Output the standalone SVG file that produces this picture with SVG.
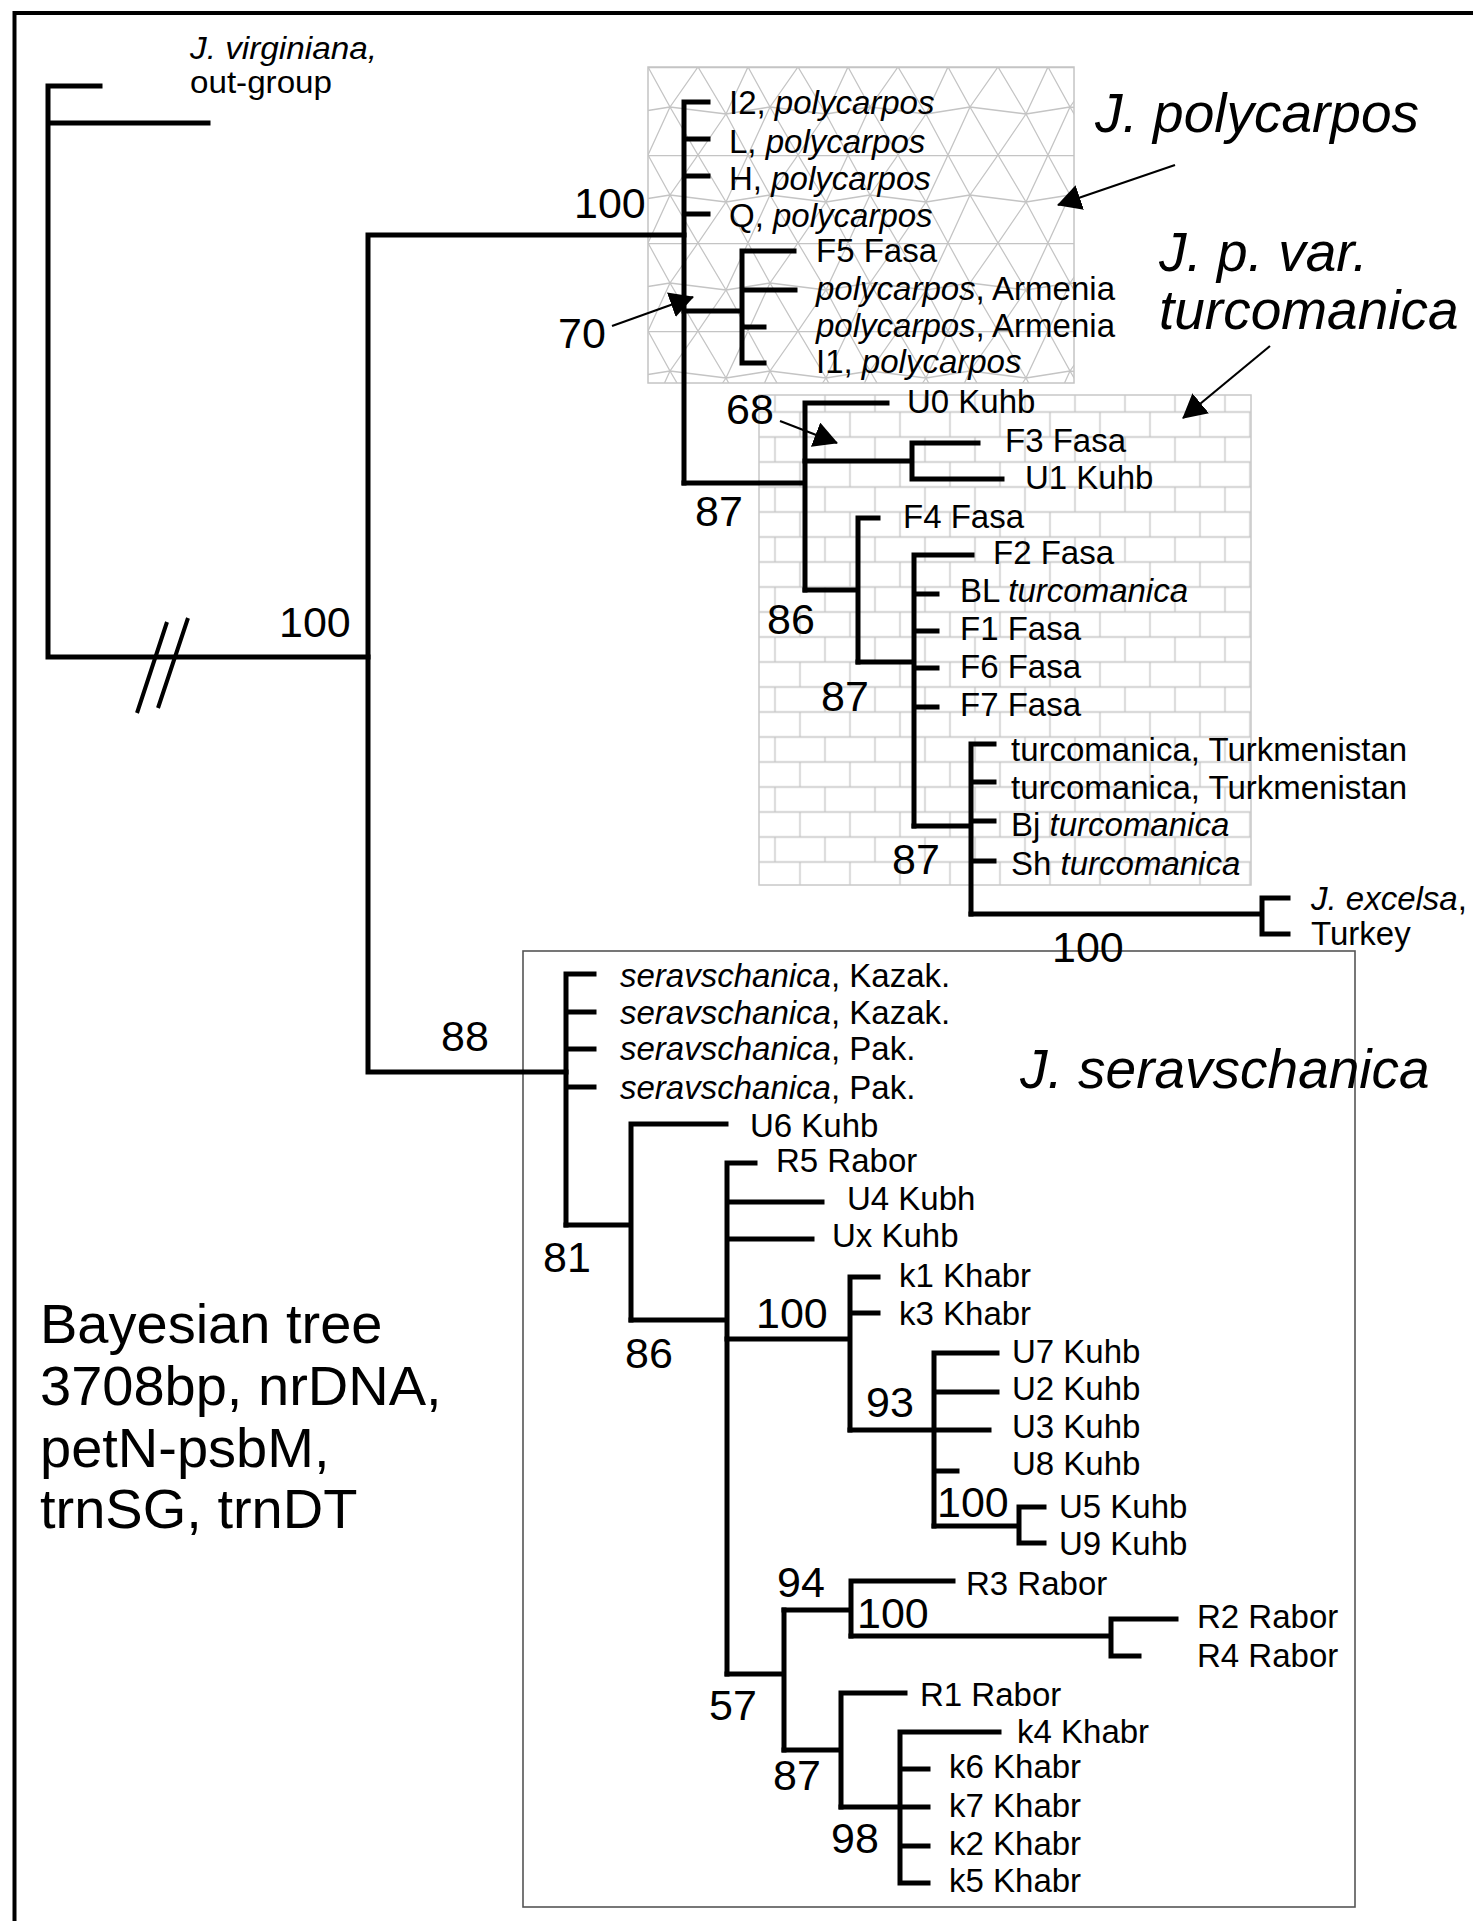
<svg xmlns="http://www.w3.org/2000/svg" width="1473" height="1921" viewBox="0 0 1473 1921">
<defs>
<style>
.br{fill:none;stroke:#000;stroke-width:5;stroke-linecap:square;stroke-linejoin:miter}
.t{font-family:"Liberation Sans",Arial,sans-serif;font-size:33px;fill:#000}
.i{font-style:italic}
.s{font-family:"Liberation Sans",Arial,sans-serif;font-size:43px;fill:#000}
.big{font-family:"Liberation Sans",Arial,sans-serif;font-size:55px;font-style:italic;fill:#000}
.bay{font-family:"Liberation Sans",Arial,sans-serif;font-size:56px;fill:#000}
.ar{fill:none;stroke:#000;stroke-width:2.2;marker-end:url(#ah)}
.pl{fill:none;stroke:#c4c4c4;stroke-width:1.3}
</style>
<marker id="ah" markerUnits="userSpaceOnUse" markerWidth="24" markerHeight="26" viewBox="0 0 24 26" refX="23" refY="13" orient="auto">
<path d="M0,0 L24,13 L0,26 Z" fill="#000"/>
</marker>
<pattern id="mesh" patternUnits="userSpaceOnUse" x="648" y="67" width="100" height="88">
<path class="pl" d="M0,0 L22,40 M50,0 L22,40 M50,0 L78,47 M100,0 L78,47 M22,40 L78,47 M22,40 L0,88 M22,40 L50,88 M78,47 L50,88 M78,47 L100,88 M0,43.5 L22,40 M78,47 L100,43.5 M0,0.6 H100"/>
</pattern>
<pattern id="brick" patternUnits="userSpaceOnUse" x="762.5" y="399.5" width="50" height="50">
<path class="pl" d="M0,12.5 H50 M0,37.5 H50 M37.5,12.5 V37.5 M12.5,37.5 V50 M12.5,0 V12.5" stroke="#c6c6c6"/>
</pattern>
</defs>
<rect x="0" y="0" width="1473" height="1921" fill="#fff"/>
<path d="M14.5,1921 V13 H1473" fill="none" stroke="#000" stroke-width="4"/>

<g id="clade-boxes">
<rect id="box-polycarpos" x="648" y="67" width="426" height="316" fill="url(#mesh)" stroke="#c4c4c4" stroke-width="1.5"/>
<rect id="box-turcomanica" x="759" y="395" width="492" height="490" fill="url(#brick)" stroke="#c8c8c8" stroke-width="1.5"/>
<rect id="box-seravschanica" x="523" y="951" width="832" height="956" fill="none" stroke="#555" stroke-width="1.6"/>
</g>

<g id="branches">
<path class="br" d="M100,86 H48 V657 H368 M48,123 H208"/>
<path class="br" d="M368,235 V1072 M368,235 H684 M368,1072 H566"/>
<path class="br" d="M684,102 V483 M684,102 H708 M684,139 H708 M684,176 H708 M684,214 H708"/>
<path class="br" d="M684,311 H742 M742,251 V363 M742,251 H794 M742,290 H795 M742,327 H764 M742,363 H764"/>
<path class="br" d="M684,483 H805 M805,403 V590 M805,403 H887"/>
<path class="br" d="M805,461 H912 M912,443 V479 M912,443 H978 M912,479 H1002"/>
<path class="br" d="M805,590 H858 M858,518 V662 M858,518 H878"/>
<path class="br" d="M858,662 H914 M914,555 V826 M914,555 H972 M914,594 H937 M914,631 H937 M914,668 H937 M914,707 H937"/>
<path class="br" d="M914,826 H971 M971,744 V914 M971,744 H994 M971,782 H994 M971,821 H994 M971,861 H994"/>
<path class="br" d="M971,914 H1262 M1262,898 V934 M1262,898 H1288 M1262,934 H1288"/>
<path class="br" d="M566,974 V1225 M566,974 H594 M566,1012 H594 M566,1049 H594 M566,1087 H594"/>
<path class="br" d="M566,1225 H631 M631,1124 V1320 M631,1124 H726"/>
<path class="br" d="M631,1320 H727 M727,1163 V1674 M727,1163 H755 M727,1202 H822 M727,1239 H812"/>
<path class="br" d="M727,1339 H850 M850,1277 V1430 M850,1277 H878 M850,1313 H878"/>
<path class="br" d="M850,1430 H989 M934,1353 V1526 M934,1353 H997 M934,1392 H997 M934,1471 H957"/>
<path class="br" d="M934,1526 H1019 M1019,1507 V1543 M1019,1507 H1044 M1019,1543 H1044"/>
<path class="br" d="M727,1674 H784 M784,1610 V1750"/>
<path class="br" d="M784,1610 H851 M851,1581 V1636 M851,1581 H953"/>
<path class="br" d="M851,1636 H1111 M1111,1619 V1656 M1111,1619 H1176 M1111,1656 H1139"/>
<path class="br" d="M784,1750 H841 M841,1693 V1807 M841,1693 H905"/>
<path class="br" d="M841,1807 H900 M900,1732 V1883 M900,1732 H999 M900,1769 H928 M900,1807 H928 M900,1846 H928 M900,1883 H928"/>
<path d="M137,713 L167,622 M158,708 L188,618" fill="none" stroke="#000" stroke-width="4"/>
<path class="ar" d="M612,326 L693,297"/>
<path class="ar" d="M780,421 L837,443"/>
<path class="ar" d="M1175,165 L1058,205"/>
<path class="ar" d="M1270,346 L1183,418"/>
</g>

<g id="support-values">
<text class="s" x="279" y="637">100</text>
<text class="s" x="574" y="218">100</text>
<text class="s" x="558" y="348">70</text>
<text class="s" x="695" y="526">87</text>
<text class="s" x="726" y="424">68</text>
<text class="s" x="767" y="634">86</text>
<text class="s" x="821" y="711">87</text>
<text class="s" x="892" y="874">87</text>
<text class="s" x="1052" y="962">100</text>
<text class="s" x="441" y="1051">88</text>
<text class="s" x="543" y="1272">81</text>
<text class="s" x="625" y="1368">86</text>
<text class="s" x="756" y="1328">100</text>
<text class="s" x="866" y="1417">93</text>
<text class="s" x="937" y="1517">100</text>
<text class="s" x="709" y="1720">57</text>
<text class="s" x="777" y="1597">94</text>
<text class="s" x="857" y="1628">100</text>
<text class="s" x="773" y="1790">87</text>
<text class="s" x="831" y="1853">98</text>
</g>

<g id="group-labels">
<text id="lbl-polycarpos" class="big" x="1095" y="132">J. polycarpos</text>
<text id="lbl-var" class="big" x="1159" y="271">J. p. var.</text>
<text id="lbl-turcomanica" class="big" x="1159" y="329">turcomanica</text>
<text id="lbl-seravschanica" class="big" x="1020" y="1088">J. seravschanica</text>
<g id="lbl-method">
<text class="bay" x="40" y="1343">Bayesian tree</text>
<text class="bay" x="40" y="1405">3708bp, nrDNA,</text>
<text class="bay" x="40" y="1467">petN-psbM,</text>
<text class="bay" x="40" y="1528">trnSG, trnDT</text>
</g>
</g>

<g id="taxa">
<g id="t-virginiana"><text class="t i" x="190" y="59" style="font-size:31px" textLength="187" lengthAdjust="spacingAndGlyphs">J. virginiana,</text><text class="t" x="190" y="93" style="font-size:31px" textLength="142" lengthAdjust="spacingAndGlyphs">out-group</text></g>
<g id="t-I2"><text class="t" x="729" y="114">I2, <tspan class="i">polycarpos</tspan></text></g>
<g id="t-L"><text class="t" x="729" y="153">L, <tspan class="i">polycarpos</tspan></text></g>
<g id="t-H"><text class="t" x="729" y="190">H, <tspan class="i">polycarpos</tspan></text></g>
<g id="t-Q"><text class="t" x="729" y="227">Q, <tspan class="i">polycarpos</tspan></text></g>
<g id="t-F5"><text class="t" x="816" y="262">F5 Fasa</text></g>
<g id="t-arm1"><text class="t" x="816" y="300"><tspan class="i">polycarpos</tspan>, Armenia</text></g>
<g id="t-arm2"><text class="t" x="816" y="337"><tspan class="i">polycarpos</tspan>, Armenia</text></g>
<g id="t-I1"><text class="t" x="816" y="373">I1, <tspan class="i">polycarpos</tspan></text></g>
<g id="t-U0"><text class="t" x="907" y="413">U0 Kuhb</text></g>
<g id="t-F3"><text class="t" x="1005" y="452">F3 Fasa</text></g>
<g id="t-U1"><text class="t" x="1025" y="489">U1 Kuhb</text></g>
<g id="t-F4"><text class="t" x="903" y="528">F4 Fasa</text></g>
<g id="t-F2"><text class="t" x="993" y="564">F2 Fasa</text></g>
<g id="t-BL"><text class="t" x="960" y="602">BL <tspan class="i">turcomanica</tspan></text></g>
<g id="t-F1"><text class="t" x="960" y="640">F1 Fasa</text></g>
<g id="t-F6"><text class="t" x="960" y="678">F6 Fasa</text></g>
<g id="t-F7"><text class="t" x="960" y="716">F7 Fasa</text></g>
<g id="t-turk1"><text class="t" x="1011" y="761">turcomanica, Turkmenistan</text></g>
<g id="t-turk2"><text class="t" x="1011" y="799">turcomanica, Turkmenistan</text></g>
<g id="t-Bj"><text class="t" x="1011" y="836">Bj <tspan class="i">turcomanica</tspan></text></g>
<g id="t-Sh"><text class="t" x="1011" y="875">Sh <tspan class="i">turcomanica</tspan></text></g>
<g id="t-excelsa"><text class="t" x="1311" y="910"><tspan class="i">J. excelsa</tspan>,</text><text class="t" x="1311" y="945">Turkey</text></g>
<g id="t-kaz1"><text class="t" x="620" y="987"><tspan class="i">seravschanica</tspan>, Kazak.</text></g>
<g id="t-kaz2"><text class="t" x="620" y="1024"><tspan class="i">seravschanica</tspan>, Kazak.</text></g>
<g id="t-pak1"><text class="t" x="620" y="1060"><tspan class="i">seravschanica</tspan>, Pak.</text></g>
<g id="t-pak2"><text class="t" x="620" y="1099"><tspan class="i">seravschanica</tspan>, Pak.</text></g>
<g id="t-U6"><text class="t" x="750" y="1137">U6 Kuhb</text></g>
<g id="t-R5"><text class="t" x="776" y="1172">R5 Rabor</text></g>
<g id="t-U4"><text class="t" x="847" y="1210">U4 Kubh</text></g>
<g id="t-Ux"><text class="t" x="832" y="1247">Ux Kuhb</text></g>
<g id="t-k1"><text class="t" x="899" y="1287">k1 Khabr</text></g>
<g id="t-k3"><text class="t" x="899" y="1325">k3 Khabr</text></g>
<g id="t-U7"><text class="t" x="1012" y="1363">U7 Kuhb</text></g>
<g id="t-U2"><text class="t" x="1012" y="1400">U2 Kuhb</text></g>
<g id="t-U3"><text class="t" x="1012" y="1438">U3 Kuhb</text></g>
<g id="t-U8"><text class="t" x="1012" y="1475">U8 Kuhb</text></g>
<g id="t-U5"><text class="t" x="1059" y="1518">U5 Kuhb</text></g>
<g id="t-U9"><text class="t" x="1059" y="1555">U9 Kuhb</text></g>
<g id="t-R3"><text class="t" x="966" y="1595">R3 Rabor</text></g>
<g id="t-R2"><text class="t" x="1197" y="1628">R2 Rabor</text></g>
<g id="t-R4"><text class="t" x="1197" y="1667">R4 Rabor</text></g>
<g id="t-R1"><text class="t" x="920" y="1706">R1 Rabor</text></g>
<g id="t-k4"><text class="t" x="1017" y="1743">k4 Khabr</text></g>
<g id="t-k6"><text class="t" x="949" y="1778">k6 Khabr</text></g>
<g id="t-k7"><text class="t" x="949" y="1817">k7 Khabr</text></g>
<g id="t-k2"><text class="t" x="949" y="1855">k2 Khabr</text></g>
<g id="t-k5"><text class="t" x="949" y="1892">k5 Khabr</text></g>
</g>
</svg>
